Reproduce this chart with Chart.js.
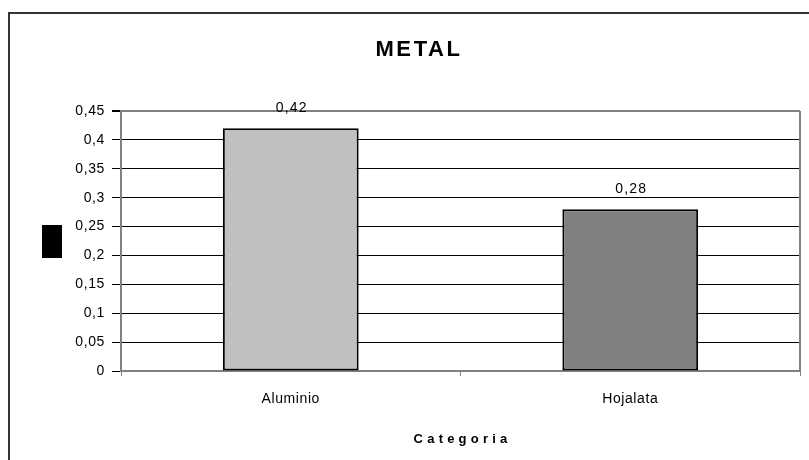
<!DOCTYPE html>
<html>
<head>
<meta charset="utf-8">
<title>METAL</title>
<script src="https://cdn.jsdelivr.net/npm/chart.js@4/dist/chart.umd.min.js"></script>
<style>
  html, body { margin: 0; padding: 0; background: #ffffff; }
  #wrap { width: 809px; height: 460px; position: relative; }
</style>
</head>
<body>
<div id="wrap"><canvas id="chart" width="809" height="460"></canvas></div>
<script>
// Chart data
const categories = ['Aluminio', 'Hojalata'];
const values = [0.42, 0.28];
const barColors = ['#C0C0C0', '#808080'];
const yTickLabels = ['0', '0,05', '0,1', '0,15', '0,2', '0,25', '0,3', '0,35', '0,4', '0,45'];
const chartTitle = 'METAL';
const xAxisTitle = 'Categoria';

const FONT = "'Liberation Sans', Arial, sans-serif";

// Decorations: outer frame, titles, value labels, plot border
const decorations = {
  id: 'decorations',
  beforeDraw(chart) {
    chart.ctx.letterSpacing = '0.6px';
  },
  afterDatasetsDraw(chart) {
    const ctx = chart.ctx;
    const meta = chart.getDatasetMeta(0);
    ctx.save();
    ctx.font = '14px ' + FONT;
    ctx.letterSpacing = '1.2px';
    ctx.fillStyle = '#000';
    ctx.textAlign = 'center';
    ctx.textBaseline = 'alphabetic';
    meta.data.forEach((bar, i) => {
      const txt = String(values[i]).replace('.', ',');
      ctx.fillText(txt, bar.x + 1, bar.y - 16);
    });
    ctx.restore();
  },
  afterDraw(chart) {
    const ctx = chart.ctx;
    const a = chart.chartArea;
    ctx.save();
    // plot area right border
    ctx.strokeStyle = '#808080';
    ctx.lineWidth = 2;
    ctx.beginPath();
    ctx.moveTo(a.right, a.top);
    ctx.lineTo(a.right, a.bottom + 1);
    ctx.stroke();

    // outer frame
    ctx.strokeStyle = '#333333';
    ctx.lineWidth = 2;
    ctx.beginPath();
    ctx.moveTo(9, chart.height + 2);
    ctx.lineTo(9, 13);
    ctx.lineTo(chart.width + 2, 13);
    ctx.stroke();

    // y-axis title block
    const midY = (a.top + a.bottom) / 2;
    ctx.fillStyle = '#000';
    ctx.fillRect(42, Math.round(midY - 16), 20, 33);

    // chart title
    ctx.font = 'bold 22px ' + FONT;
    ctx.letterSpacing = '2.6px';
    ctx.textAlign = 'center';
    ctx.textBaseline = 'alphabetic';
    ctx.fillText(chartTitle, 419, 56);

    // x-axis title
    ctx.font = 'bold 13px ' + FONT;
    ctx.letterSpacing = '4.2px';
    ctx.fillText(xAxisTitle, (a.left + a.right) / 2 + 2, 443);
    ctx.restore();
  }
};

new Chart(document.getElementById('chart'), {
  type: 'bar',
  data: {
    labels: categories,
    datasets: [{
      data: values,
      backgroundColor: barColors,
      borderColor: '#000000',
      borderWidth: 2,
      borderSkipped: false,
      barPercentage: 0.4,
      categoryPercentage: 1.0
    }]
  },
  options: {
    responsive: false,
    animation: false,
    devicePixelRatio: 1,
    layout: { padding: { top: 111, right: 9, bottom: 0, left: 0 } },
    plugins: {
      legend: { display: false },
      title: { display: false },
      tooltip: { enabled: false }
    },
    scales: {
      x: {
        offset: true,
        afterFit(scale) { scale.height = 89; },
        grid: {
          offset: true,
          drawOnChartArea: false,
          tickLength: 5,
          tickColor: '#808080'
        },
        border: { color: '#808080', width: 2 },
        ticks: {
          color: '#000',
          font: { family: FONT, size: 14 },
          padding: 15,
          maxRotation: 0
        }
      },
      y: {
        min: 0,
        max: 0.45,
        afterFit(scale) { scale.width = 121; },
        grid: {
          color: (c) => (c.index === yTickLabels.length - 1 ? '#808080' : '#000000'),
          lineWidth: (c) => (c.index === yTickLabels.length - 1 ? 2 : 1),
          tickColor: '#000000',
          tickLength: 9
        },
        border: { color: '#808080', width: 2 },
        ticks: {
          stepSize: 0.05,
          color: '#000',
          font: { family: FONT, size: 14 },
          padding: 7,
          callback: (v, i) => yTickLabels[i]
        }
      }
    }
  },
  plugins: [decorations]
});
</script>
</body>
</html>
